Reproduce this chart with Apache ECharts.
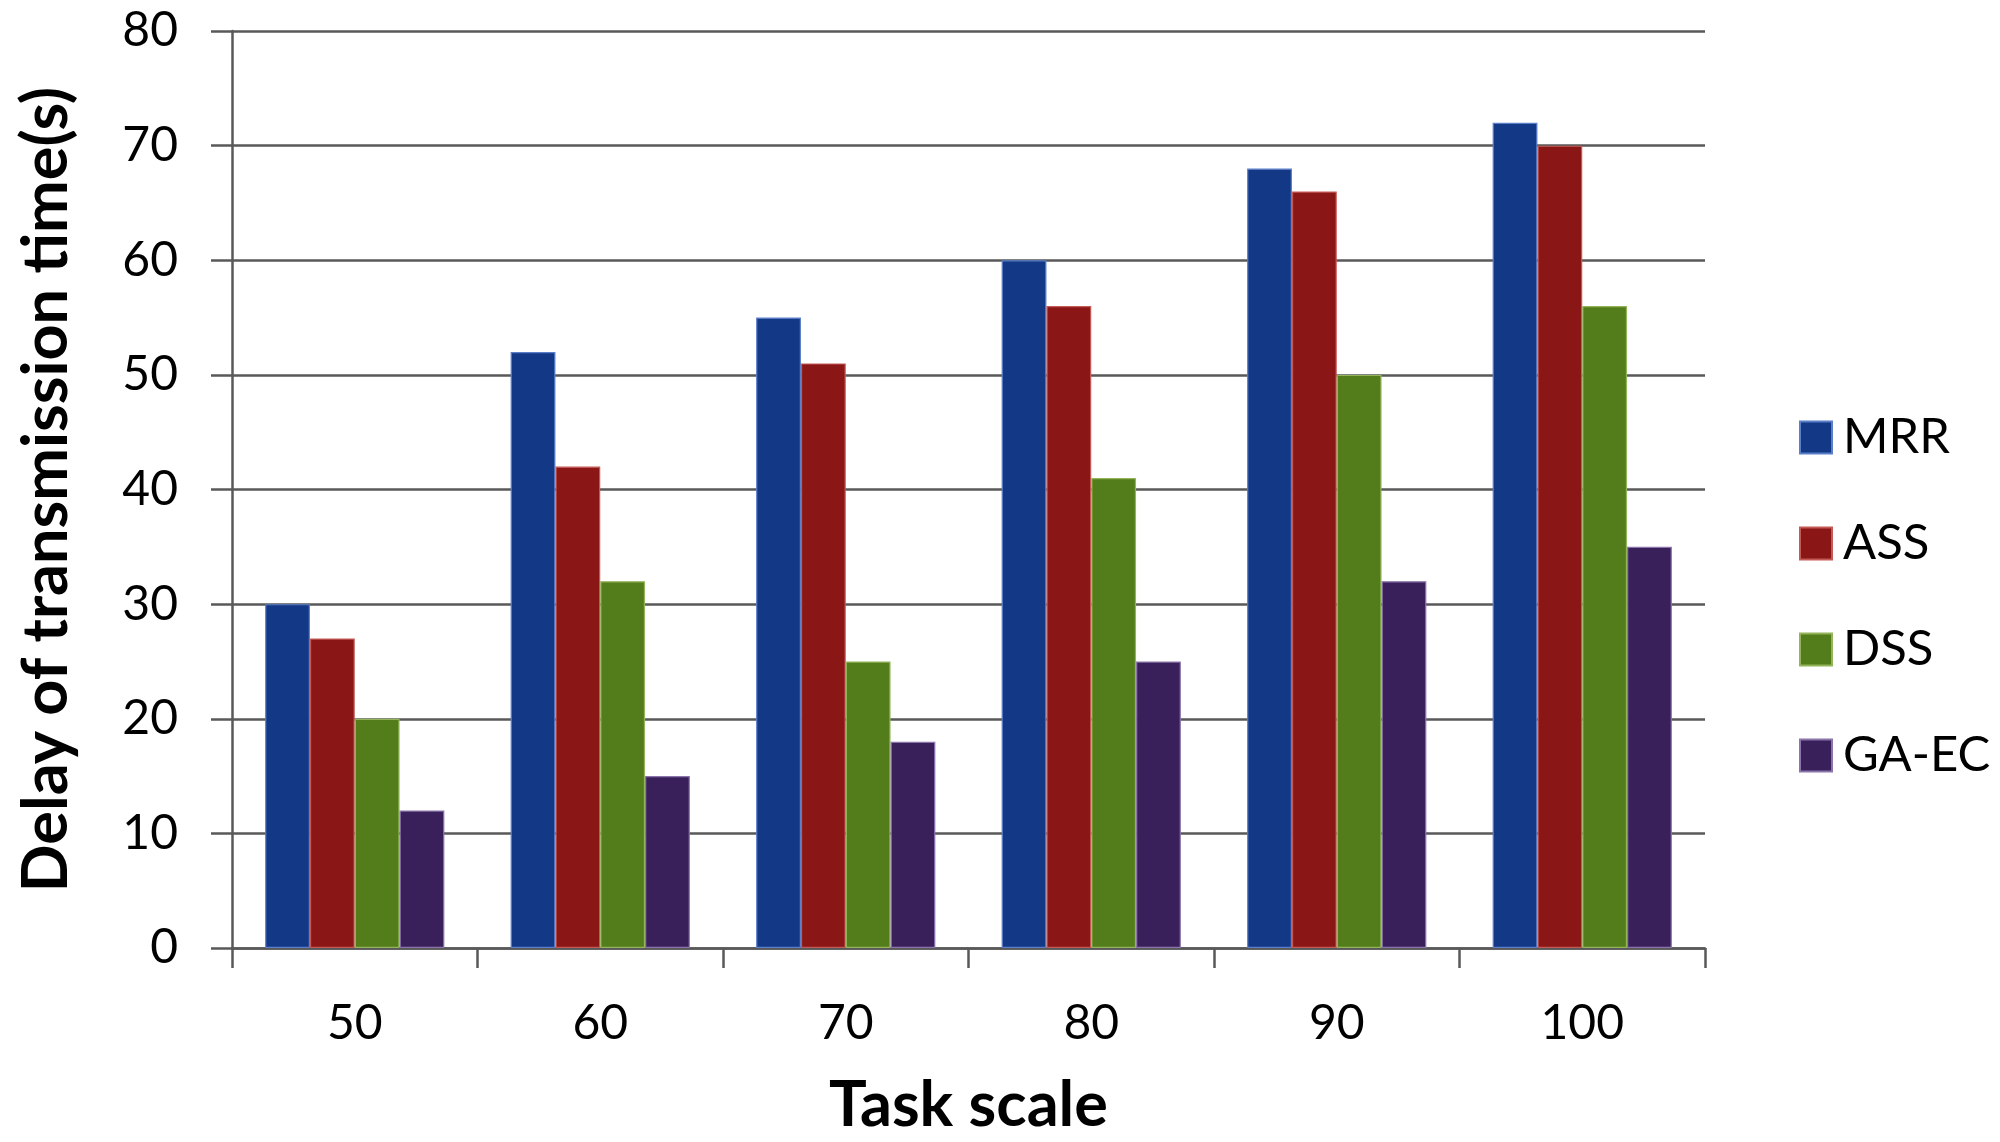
<!DOCTYPE html>
<html>
<head>
<meta charset="utf-8">
<script src="https://cdn.jsdelivr.net/npm/echarts@6/dist/echarts.min.js"></script>
<style>html,body{margin:0;padding:0;background:#fff;}#c{width:2000px;height:1142px;}</style>
</head>
<body>
<div id="c"></div>
<script>
const categories = ['50', '60', '70', '80', '90', '100'];
const seriesNames = ['MRR', 'ASS', 'DSS', 'GA-EC'];
const mrr = [30, 52, 55, 60, 68, 72];
const ass = [27, 42, 51, 56, 66, 70];
const dss = [20, 32, 25, 41, 50, 56];
const gaec = [12, 15, 18, 25, 32, 35];
const yTicks = [0, 10, 20, 30, 40, 50, 60, 70, 80];

const colors = ['#133886', '#8a1616', '#537d1a', '#39205b'];
const borders = ['#5b7ec8', '#c45a55', '#93b45a', '#8a74aa'];
const values = [mrr, ass, dss, gaec];
const font = 'Lato, "Noto Sans", sans-serif';

const chart = echarts.init(document.getElementById('c'));
chart.setOption({
  animation: false,
  backgroundColor: '#fff',
  grid: { left: 232, right: 295, top: 31, bottom: 192 },
  legend: {
    orient: 'vertical',
    left: 1794,
    top: 408,
    itemWidth: 32,
    itemHeight: 32,
    itemGap: 57,
    icon: 'rect',
    data: seriesNames,
    textStyle: { fontFamily: font, fontSize: 49, color: '#000', padding: [0, 0, 0, 6] }
  },
  xAxis: {
    type: 'category',
    data: categories,
    boundaryGap: true,
    name: 'Task scale',
    nameLocation: 'middle',
    nameGap: 126,
    nameTextStyle: { fontFamily: font, fontSize: 63, fontWeight: 'bold', color: '#000' },
    axisLine: { lineStyle: { color: '#595959', width: 2.5 } },
    axisTick: { show: true, length: 20, lineStyle: { color: '#595959', width: 2.5 }, alignWithLabel: false },
    axisLabel: { fontFamily: font, fontSize: 48, color: '#000', margin: 52 }
  },
  yAxis: {
    type: 'value',
    min: 0,
    max: 80,
    interval: 10,
    name: 'Delay of transmission time(s)',
    nameLocation: 'middle',
    nameGap: 154,
    nameTextStyle: { fontFamily: font, fontSize: 63, fontWeight: 'bold', color: '#000' },
    axisLine: { show: true, lineStyle: { color: '#595959', width: 2.5 } },
    axisTick: { show: true, length: 21, lineStyle: { color: '#595959', width: 2.5 } },
    splitLine: { show: true, lineStyle: { color: '#595959', width: 2.5 } },
    axisLabel: {
      fontFamily: font, fontSize: 48, color: '#000', margin: 54,
      formatter: function (v) { return yTicks.indexOf(v) >= 0 ? String(v) : ''; }
    }
  },
  series: seriesNames.map(function (n, i) {
    return {
      name: n,
      type: 'bar',
      data: values[i],
      barGap: '0%',
      barCategoryGap: '27%',
      itemStyle: { color: colors[i], borderColor: borders[i], borderWidth: 1.2 }
    };
  })
});
</script>
</body>
</html>
